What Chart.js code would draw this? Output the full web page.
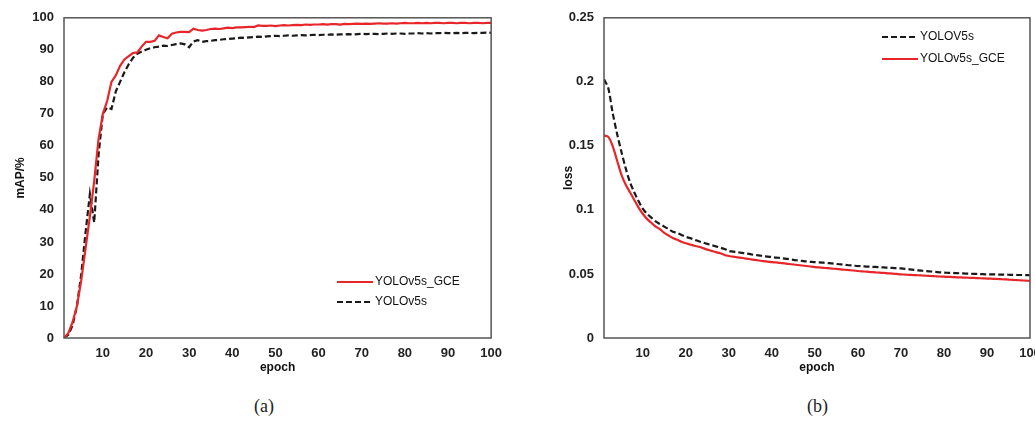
<!DOCTYPE html>
<html>
<head>
<meta charset="utf-8">
<script src="https://cdn.jsdelivr.net/npm/chart.js@4"></script>
<style>
  html, body { margin: 0; padding: 0; background: #fff; overflow: hidden; }
  body { width: 1035px; height: 421px; position: relative; }
  .box { position: absolute; top: 0; height: 380px; }
  #boxA { left: 0; width: 510px; }
  #boxB { left: 520px; width: 530px; }
  .cap { position: absolute; top: 396px; font-family: "Liberation Serif", "DejaVu Serif", serif; font-size: 18px; color: #222; }
</style>
</head>
<body>
<div class="box" id="boxA"><canvas id="chartA" width="510" height="380"></canvas></div>
<div class="box" id="boxB"><canvas id="chartB" width="530" height="380"></canvas></div>
<div class="cap" style="left:254px">(a)</div>
<div class="cap" style="left:807px">(b)</div>
<script>
// epochs
const epochs = [1,2,3,4,5,6,7,8,9,10,11,12,13,14,15,16,17,18,19,20,
  21,22,23,24,25,26,27,28,29,30,31,32,33,34,35,36,37,38,39,40,
  41,42,43,44,45,46,47,48,49,50,51,52,53,54,55,56,57,58,59,60,
  61,62,63,64,65,66,67,68,69,70,71,72,73,74,75,76,77,78,79,80,
  81,82,83,84,85,86,87,88,89,90,91,92,93,94,95,96,97,98,99,100];

const xTicks = [10,20,30,40,50,60,70,80,90,100];
const mapTicks = [0,10,20,30,40,50,60,70,80,90,100];
const lossTicks = [0,0.05,0.1,0.15,0.2,0.25];

// mAP (%) per epoch
const mapGce = [0,1.5,5,10,18,28,38,49,62,70,
  74,80,82,85,87,88,89,89.2,91,92.5,
  92.5,92.8,94.5,94,93.6,95,95.4,95.6,95.6,95.5,
  96.6,96.2,96,96.2,96.5,96.6,96.5,96.7,96.9,96.8,
  97,97,97.1,97.2,97.1,97.6,97.5,97.5,97.6,97.4,
  97.6,97.7,97.6,97.7,97.8,97.7,97.9,97.8,97.9,97.9,
  98,97.9,98,98,97.9,98.1,98,98.1,98.2,98.1,
  98.2,98.1,98.2,98.3,98.2,98.2,98.3,98.2,98.3,98.4,
  98.3,98.3,98.4,98.3,98.4,98.3,98.4,98.4,98.3,98.4,
  98.4,98.3,98.4,98.4,98.3,98.4,98.4,98.3,98.4,98.4];

const mapBase = [0,1,4,10,20,33,45,36,57,70,
  72,71.5,77,80,83,85.5,87.5,88.8,89.5,90,
  90.5,90.8,91,91.3,91.2,91.5,91.8,92,91.7,90.8,
  92.6,93,92.5,92.7,92.8,93,93.1,93.3,93.4,93.5,
  93.6,93.8,93.7,93.9,94,94.1,94,94.2,94.3,94.4,
  94.3,94.4,94.5,94.4,94.5,94.6,94.5,94.6,94.7,94.6,
  94.7,94.7,94.8,94.7,94.8,94.8,94.9,94.8,94.9,95,
  94.9,95,95,94.9,95,95.1,95,95.1,95.1,95,
  95.1,95.1,95.2,95.1,95.2,95.1,95.2,95.2,95.3,95.2,
  95.2,95.3,95.2,95.3,95.3,95.2,95.3,95.3,95.4,95.3];

// loss per epoch
const lossBase = [0.202,0.195,0.176,0.16,0.146,0.133,0.122,0.114,0.107,0.101,
  0.097,0.094,0.091,0.089,0.087,0.085,0.083,0.082,0.0805,0.079,
  0.078,0.0768,0.0755,0.0745,0.0735,0.0725,0.0715,0.0705,0.0695,0.068,
  0.0675,0.067,0.0665,0.066,0.0655,0.0648,0.0645,0.064,0.0636,0.0632,
  0.0628,0.0625,0.062,0.0615,0.061,0.0606,0.0602,0.0598,0.0595,0.0592,
  0.0591,0.0588,0.0585,0.0582,0.0578,0.0575,0.0572,0.0568,0.0565,0.0562,
  0.056,0.0558,0.0556,0.0555,0.0553,0.0551,0.0549,0.0547,0.0545,0.0543,
  0.054,0.0536,0.0532,0.0528,0.0525,0.0522,0.0519,0.0516,0.0513,0.051,
  0.0509,0.0508,0.0506,0.0505,0.0503,0.0502,0.0501,0.0499,0.0498,0.0497,
  0.0497,0.0496,0.0495,0.0495,0.0494,0.0493,0.0492,0.0492,0.0491,0.049];

const lossGce = [0.158,0.157,0.15,0.139,0.128,0.12,0.114,0.108,0.102,0.097,
  0.093,0.09,0.087,0.085,0.082,0.08,0.078,0.0767,0.0752,0.074,
  0.073,0.072,0.0712,0.0702,0.069,0.068,0.067,0.0662,0.0648,0.064,
  0.0635,0.063,0.0625,0.062,0.0615,0.061,0.0605,0.06,0.0597,0.0593,
  0.059,0.0587,0.0582,0.0578,0.0574,0.057,0.0566,0.0562,0.0558,0.0554,
  0.0551,0.0548,0.0545,0.0542,0.0539,0.0536,0.0533,0.053,0.0527,0.0523,
  0.052,0.0518,0.0515,0.0513,0.051,0.0508,0.0505,0.0503,0.05,0.0497,
  0.0495,0.0493,0.0491,0.049,0.0488,0.0486,0.0484,0.0482,0.048,0.0479,
  0.0477,0.0476,0.0474,0.0473,0.0471,0.047,0.0469,0.0467,0.0466,0.0464,
  0.0463,0.0461,0.046,0.0458,0.0456,0.0454,0.0452,0.045,0.0448,0.0446];

const RED = '#e8262a';
const BLACK = '#1a1a1a';
const tickFont = { family: 'Liberation Sans', size: 13, weight: 'bold' };
const titleFont = { family: 'Liberation Sans', size: 12, weight: 'bold' };

function pts(vals) {
  return epochs.map((e, i) => ({ x: e, y: vals[i] }));
}

// frame around the plot area
const framePlugin = {
  id: 'frame',
  afterDraw(chart) {
    const a = chart.chartArea, c = chart.ctx;
    c.save();
    c.strokeStyle = '#555';
    c.lineWidth = 1.5;
    c.strokeRect(a.left, a.top, a.right - a.left, a.bottom - a.top);
    c.restore();
  }
};

// legend drawn inside the plot area
const boxLegend = {
  id: 'boxLegend',
  afterDraw(chart, args, opts) {
    const c = chart.ctx;
    c.save();
    c.font = '12px "Liberation Sans"';
    c.textBaseline = 'middle';
    chart.data.datasets.forEach((ds, i) => {
      const y = opts.y + i * opts.gap;
      c.strokeStyle = ds.borderColor;
      c.lineWidth = 2;
      c.setLineDash(ds.borderDash || []);
      c.beginPath();
      c.moveTo(opts.x, y);
      c.lineTo(opts.x + 36, y);
      c.stroke();
      c.setLineDash([]);
      c.fillStyle = '#111';
      c.fillText(ds.label, opts.x + 38, y);
    });
    c.restore();
  }
};

function makeChart(id, datasets, yTicks, yMax, yTitle, padRight, legendPos, yAxisW, titlePad, tension) {
  return new Chart(document.getElementById(id), {
    type: 'line',
    data: { datasets: datasets },
    plugins: [framePlugin, boxLegend],
    options: {
      responsive: false,
      animation: false,
      layout: { padding: { left: 0, right: padRight, top: 13, bottom: 0 } },
      elements: { point: { radius: 0 }, line: { tension: tension } },
      plugins: {
        legend: { display: false },
        tooltip: { enabled: false },
        boxLegend: legendPos
      },
      scales: {
        x: {
          type: 'linear', min: 1, max: 100,
          grid: { display: false, drawTicks: false },
          border: { display: false },
          afterBuildTicks(s) { s.ticks = xTicks.map(v => ({ value: v })); },
          afterFit(s) { s.height = 42; },
          ticks: { font: tickFont, color: '#222', padding: 8, maxRotation: 0 },
          title: { display: true, text: 'epoch', font: titleFont, color: '#111', padding: { top: 0, bottom: 5 } }
        },
        y: {
          min: 0, max: yMax,
          grid: { display: false, drawTicks: false },
          border: { display: false },
          afterBuildTicks(s) { s.ticks = yTicks.map(v => ({ value: v })); },
          afterFit(s) { s.width = yAxisW; },
          ticks: { font: tickFont, color: '#222', padding: 10, callback: v => String(v) },
          title: { display: true, text: yTitle, font: titleFont, color: '#111', padding: { top: titlePad, bottom: 0 } }
        }
      }
    }
  });
}

makeChart('chartA', [
  { label: 'YOLOv5s_GCE', data: pts(mapGce), borderColor: RED, borderWidth: 2.2 },
  { label: 'YOLOv5s', data: pts(mapBase), borderColor: BLACK, borderWidth: 2.2, borderDash: [6, 3] }
], mapTicks, 100, 'mAP/%', 17, { x: 337, y: 282, gap: 20 }, 64, 13, 0);

makeChart('chartB', [
  { label: 'YOLOV5s', data: pts(lossBase), borderColor: BLACK, borderWidth: 2.2, borderDash: [6, 3] },
  { label: 'YOLOv5s_GCE', data: pts(lossGce), borderColor: RED, borderWidth: 2.2 }
], lossTicks, 0.25, 'loss', 20, { x: 362, y: 37, gap: 22 }, 84, 41, 0.3);
</script>
</body>
</html>
